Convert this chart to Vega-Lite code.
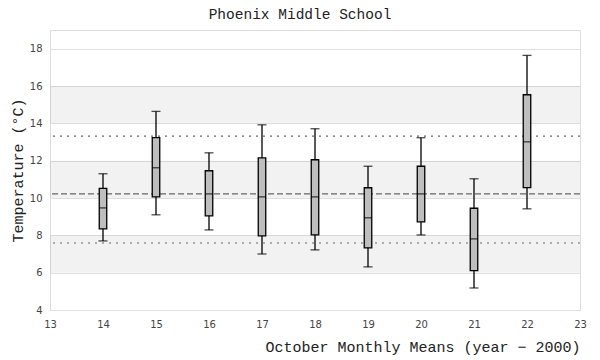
{
  "$schema": "https://vega.github.io/schema/vega-lite/v6.json",
  "width": 530,
  "height": 280,
  "autosize": {"type": "none"},
  "padding": {"left": 50, "top": 30, "right": 20, "bottom": 50},
  "background": "white",
  "title": {
    "text": "Phoenix Middle School",
    "font": "Liberation Mono",
    "fontSize": 14.5,
    "fontWeight": "normal",
    "color": "#222",
    "anchor": "middle",
    "frame": "group",
    "dx": -15,
    "offset": 8
  },
  "config": {
    "view": {"stroke": "#dddddd", "strokeWidth": 1},
    "axis": {
      "labelFont": "DejaVu Sans",
      "labelFontSize": 10,
      "labelColor": "#444",
      "labelOverlap": false,
      "labelFlush": false,
      "titleFont": "Liberation Mono",
      "titleFontSize": 15,
      "titleFontWeight": "normal",
      "titleColor": "#222",
      "domain": false,
      "ticks": false
    },
    "axisY": {
      "values": [4, 6, 8, 10, 12, 14, 16, 18],
      "grid": true,
      "gridColor": "#e0e0e0",
      "gridWidth": 1,
      "labelPadding": 8,
      "titlePadding": 4,
      "labelOverlap": false
    },
    "axisX": {
      "values": [13, 14, 15, 16, 17, 18, 19, 20, 21, 22, 23],
      "grid": false,
      "labelPadding": 9,
      "titleAnchor": "end",
      "titlePadding": 10,
      "labelFlush": false,
      "labelOverlap": false
    }
  },
  "datasets": {
    "boxes": [
      {"year": 14, "lo": 7.70, "q1": 8.35, "med": 9.47, "q3": 10.52, "hi": 11.30},
      {"year": 15, "lo": 9.10, "q1": 10.06, "med": 11.62, "q3": 13.23, "hi": 14.64},
      {"year": 16, "lo": 8.29, "q1": 9.04, "med": 10.22, "q3": 11.46, "hi": 12.42},
      {"year": 17, "lo": 7.00, "q1": 7.97, "med": 10.06, "q3": 12.15, "hi": 13.92},
      {"year": 18, "lo": 7.22, "q1": 8.02, "med": 10.06, "q3": 12.05, "hi": 13.71},
      {"year": 19, "lo": 6.31, "q1": 7.33, "med": 8.94, "q3": 10.55, "hi": 11.70},
      {"year": 20, "lo": 8.02, "q1": 8.72, "med": 10.22, "q3": 11.70, "hi": 13.23},
      {"year": 21, "lo": 5.18, "q1": 6.11, "med": 7.81, "q3": 9.45, "hi": 11.03},
      {"year": 22, "lo": 9.42, "q1": 10.56, "med": 13.01, "q3": 15.53, "hi": 17.64}
    ],
    "bands": [
      {"v": 6, "v2": 8},
      {"v": 10, "v2": 12},
      {"v": 14, "v2": 16}
    ],
    "mean": [{"v": 10.22}],
    "bounds": [{"v": 13.31}, {"v": 7.59}]
  },
  "layer": [
    {
      "data": {"name": "bands"},
      "mark": {"type": "rect", "fill": "#000", "fillOpacity": 0.05},
      "encoding": {
        "y": {"field": "v", "type": "quantitative", "scale": {"domain": [4, 19], "nice": false, "zero": false, "padding": 0}, "title": "Temperature (°C)"},
        "y2": {"field": "v2"}
      }
    },
    {
      "data": {"name": "mean"},
      "mark": {"type": "rule", "color": "#666", "strokeWidth": 1.2, "strokeDash": [6, 3]},
      "encoding": {
        "y": {"field": "v", "type": "quantitative", "title": "Temperature (°C)"}
      }
    },
    {
      "data": {"name": "bounds"},
      "mark": {"type": "rule", "color": "#666", "strokeWidth": 1.2, "strokeDash": [2, 5]},
      "encoding": {
        "y": {"field": "v", "type": "quantitative", "title": "Temperature (°C)"}
      }
    },
    {
      "data": {"name": "boxes"},
      "mark": {"type": "rule", "color": "#000", "strokeWidth": 1.3},
      "encoding": {
        "x": {"field": "year", "type": "quantitative", "scale": {"domain": [13, 23], "nice": false, "zero": false, "padding": 0}, "title": "October Monthly Means (year − 2000)"},
        "y": {"field": "lo", "type": "quantitative", "title": "Temperature (°C)"},
        "y2": {"field": "hi"}
      }
    },
    {
      "data": {"name": "boxes"},
      "mark": {"type": "tick", "orient": "horizontal", "color": "#000", "size": 9, "thickness": 1.3},
      "encoding": {
        "x": {"field": "year", "type": "quantitative", "title": "October Monthly Means (year − 2000)"},
        "y": {"field": "lo", "type": "quantitative", "title": "Temperature (°C)"}
      }
    },
    {
      "data": {"name": "boxes"},
      "mark": {"type": "tick", "orient": "horizontal", "color": "#000", "size": 9, "thickness": 1.3},
      "encoding": {
        "x": {"field": "year", "type": "quantitative", "title": "October Monthly Means (year − 2000)"},
        "y": {"field": "hi", "type": "quantitative", "title": "Temperature (°C)"}
      }
    },
    {
      "data": {"name": "boxes"},
      "mark": {"type": "bar", "orient": "vertical", "size": 7.5, "fill": "#bebebe", "stroke": "#000", "strokeWidth": 1.3},
      "encoding": {
        "x": {"field": "year", "type": "quantitative", "title": "October Monthly Means (year − 2000)"},
        "y": {"field": "q1", "type": "quantitative", "title": "Temperature (°C)"},
        "y2": {"field": "q3"}
      }
    },
    {
      "data": {"name": "boxes"},
      "mark": {"type": "tick", "orient": "horizontal", "color": "#000", "size": 8, "thickness": 1.3},
      "encoding": {
        "x": {"field": "year", "type": "quantitative", "title": "October Monthly Means (year − 2000)"},
        "y": {"field": "med", "type": "quantitative", "title": "Temperature (°C)"}
      }
    }
  ]
}
